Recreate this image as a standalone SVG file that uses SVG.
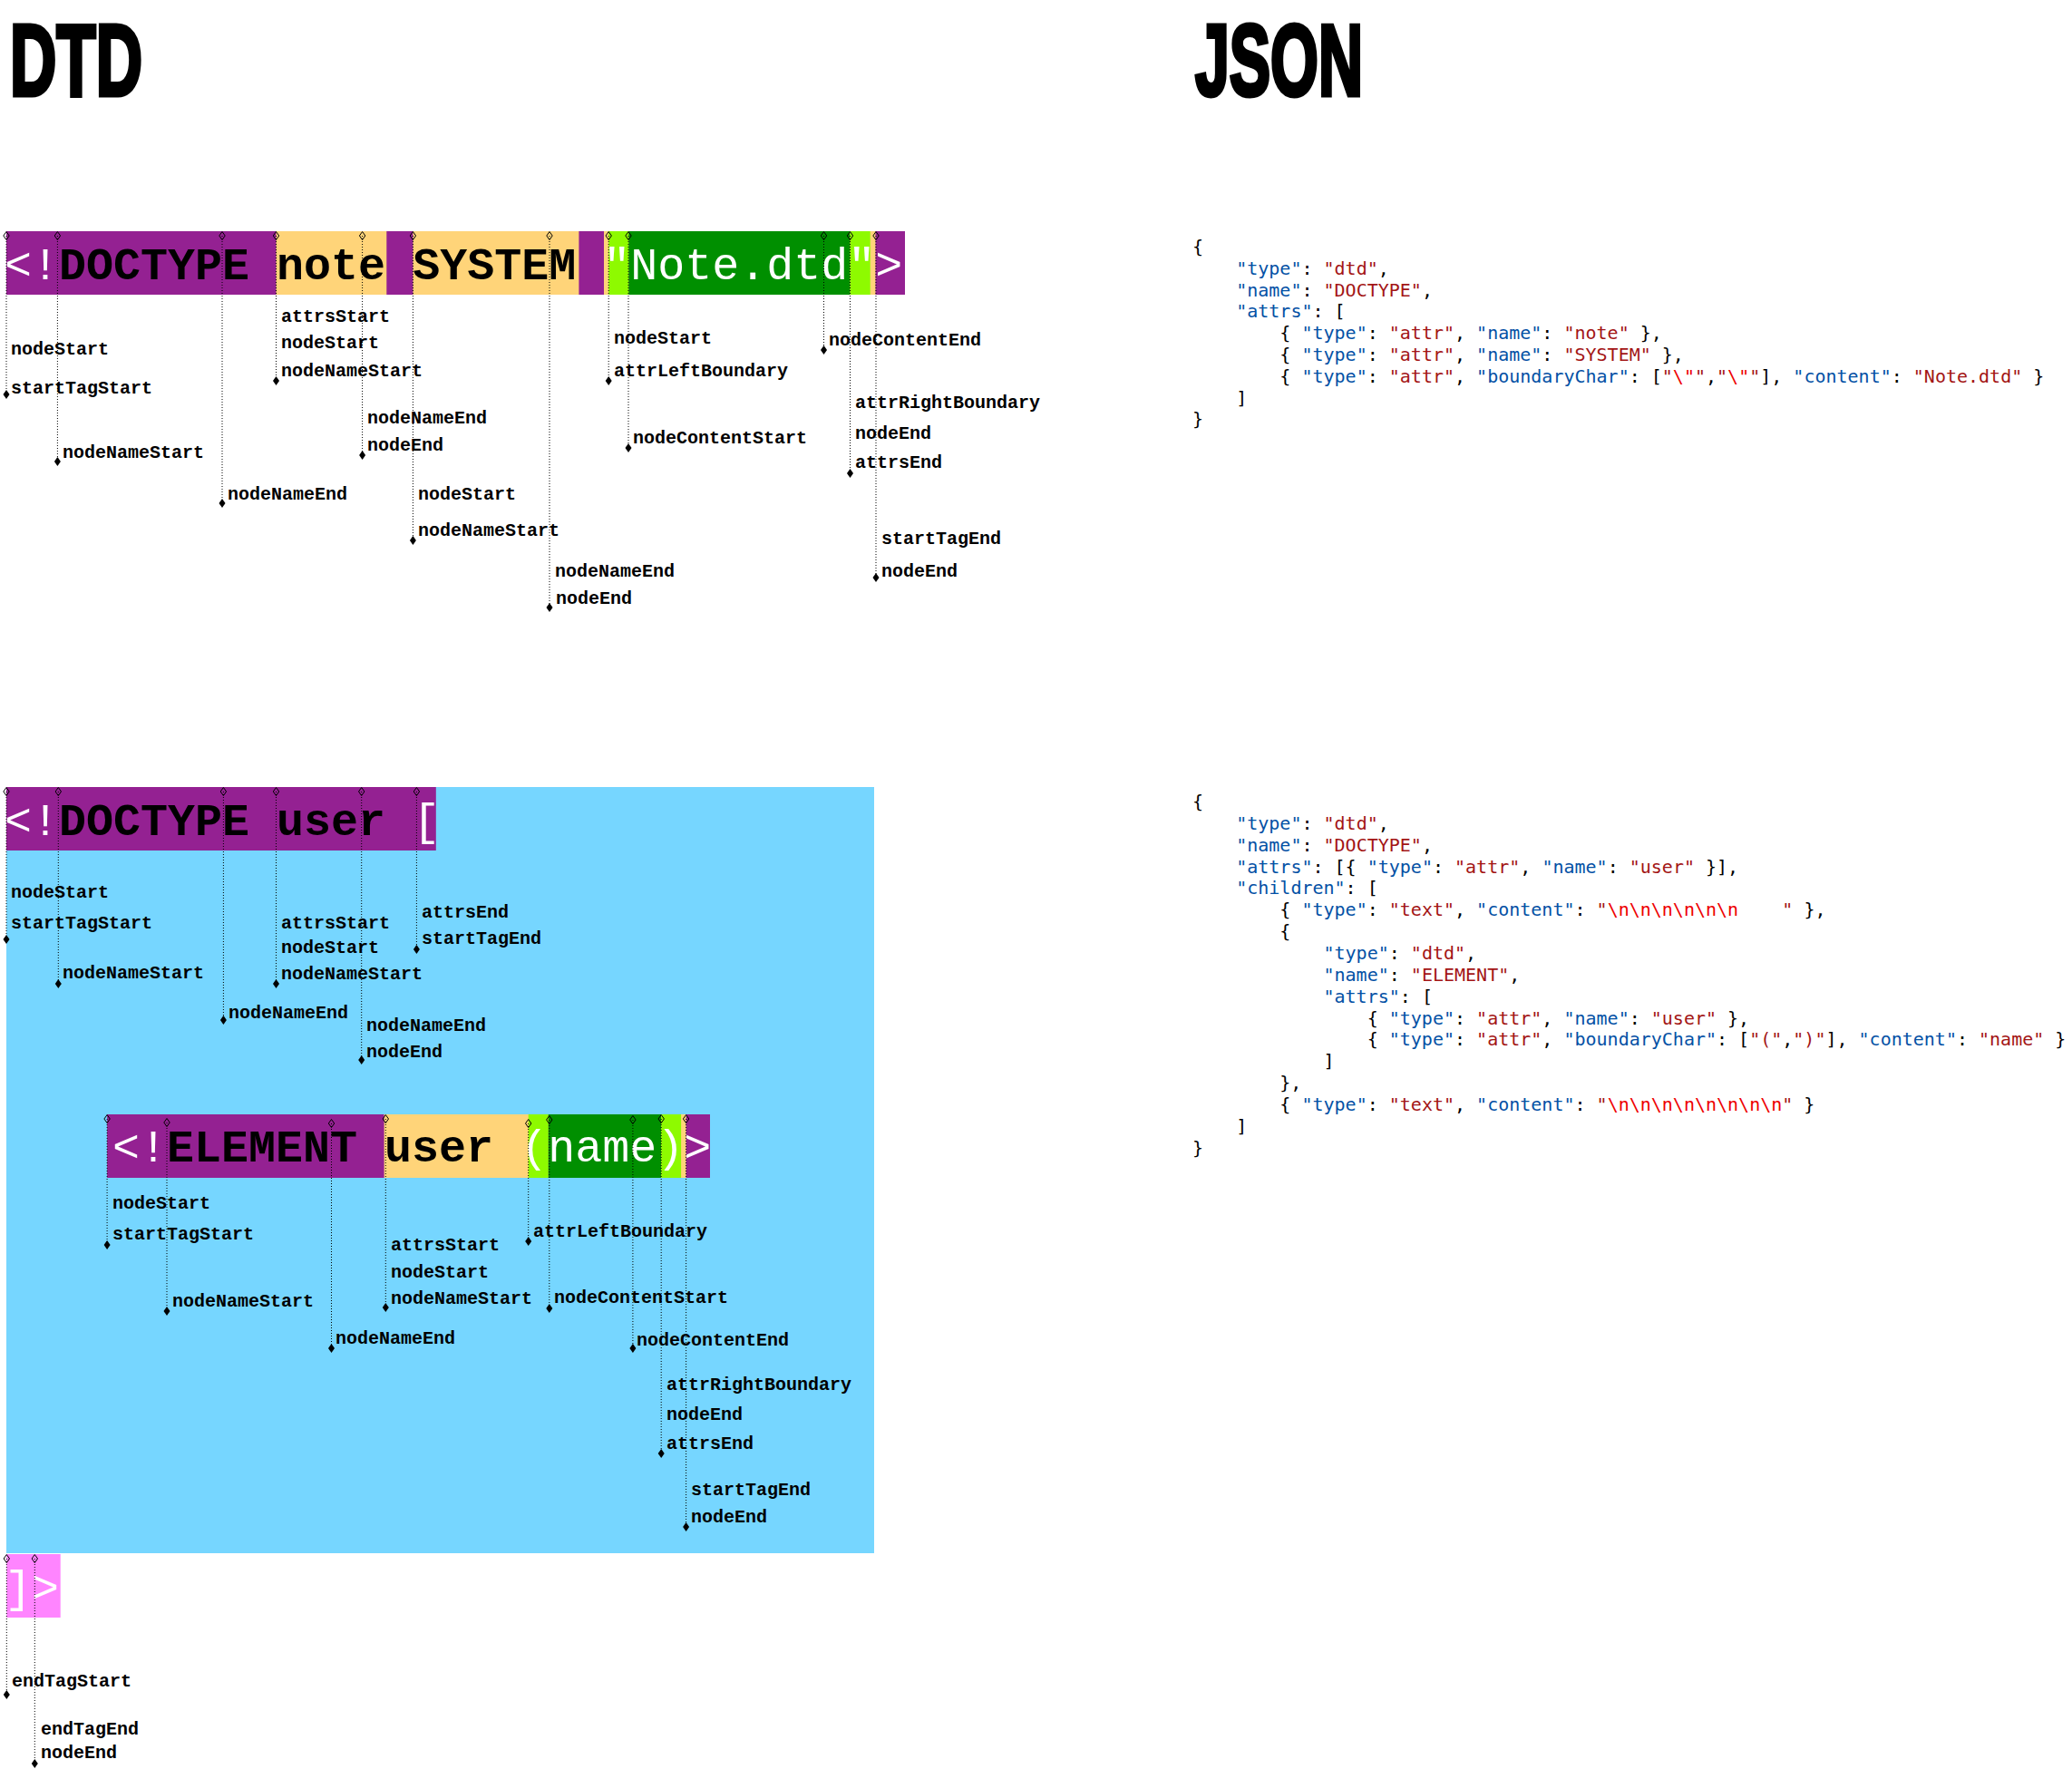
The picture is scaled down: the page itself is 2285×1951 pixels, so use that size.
<svg xmlns="http://www.w3.org/2000/svg" xmlns:xlink="http://www.w3.org/1999/xlink" width="2285" height="1951" viewBox="0 0 2285 1951">
  <style>
    .title { font-family: "Liberation Sans Narrow", "Liberation Sans", "DejaVu Sans Condensed", sans-serif; font-weight: bold; font-size: 112px; fill: #000; stroke: #000; stroke-width: 5px; stroke-linejoin: miter; }
    .bar { font-family: "Courier New", "Liberation Mono", monospace; font-size: 50px; }
    .w { fill: #fff; font-weight: normal; }
    .b { fill: #000; font-weight: bold; }
    .lab { font-family: "Courier New", "Liberation Mono", monospace; font-weight: bold; font-size: 20px; fill: #000; }
    .json { font-family: "DejaVu Sans Mono", Menlo, monospace; font-size: 20px; fill: #000; white-space: pre; }
    .k { fill: #0451A5; }
    .s { fill: #A31515; }
    .e { fill: #EE0000; }
    .guide { stroke: #000; stroke-width: 1; stroke-dasharray: 1 2; fill: none; }
    .tag { fill: #942192; }
    .attr { fill: #FFD479; }
    .bound { fill: #8EFA00; }
    .content { fill: #008F00; }
    .scope { fill: #76D6FF; }
    .close { fill: #FF85FF; }
  </style>
  <defs>
    <path id="dh" d="M0,-4.5 L3.2,0 L0,4.5 L-3.2,0 Z" fill="none" stroke="#000" stroke-width="1"/>
    <path id="df" d="M0,-5 L3.5,0 L0,5 L-3.5,0 Z" fill="#000"/>
  </defs>

  <rect x="0" y="0" width="2285" height="1951" fill="#fff"/>

  <!-- headings -->
  <g id="title-dtd"><text class="title" x="11" y="105" textLength="146" lengthAdjust="spacingAndGlyphs">DTD</text></g>
  <g id="title-json"><text class="title" x="1318" y="105" textLength="185" lengthAdjust="spacingAndGlyphs">JSON</text></g>

  <!-- ===== sample 1: <!DOCTYPE note SYSTEM "Note.dtd"> ===== -->
  <g id="doctype-note">
    <rect class="tag" x="7" y="255" width="991" height="70"/>
    <rect class="attr" x="304.5" y="255" width="121.8" height="70"/>
    <rect class="attr" x="455.4" y="255" width="183" height="70"/>
    <rect class="attr" x="666" y="255" width="299.5" height="70"/>
    <rect class="bound" x="671.2" y="255" width="22.1" height="70"/>
    <rect class="content" x="693.3" y="255" width="244.2" height="70"/>
    <rect class="bound" x="937.5" y="255" width="22.2" height="70"/>
    <text class="bar" x="5" y="308" xml:space="preserve"><tspan class="w">&lt;!</tspan><tspan class="b">DOCTYPE</tspan> <tspan class="b">note</tspan> <tspan class="b">SYSTEM</tspan> <tspan class="w">"Note.dtd"&gt;</tspan></text>
  </g>

  <!-- ===== sample 2: internal subset ===== -->
  <g id="doctype-user">
    <rect class="scope" x="7" y="868" width="957" height="845"/>
    <rect class="tag" x="7" y="868" width="473.8" height="70"/>
    <text class="bar" x="5" y="921" xml:space="preserve"><tspan class="w">&lt;!</tspan><tspan class="b">DOCTYPE</tspan> <tspan class="b">user</tspan> <tspan class="w">[</tspan></text>
  </g>

  <g id="element-user">
    <rect class="tag" x="118.1" y="1229" width="664.9" height="70"/>
    <rect class="attr" x="423.6" y="1229" width="333" height="70"/>
    <rect class="bound" x="582.7" y="1229" width="22" height="70"/>
    <rect class="content" x="604.7" y="1229" width="124.5" height="70"/>
    <rect class="bound" x="729.2" y="1229" width="21.9" height="70"/>
    <text class="bar" x="124" y="1281" xml:space="preserve"><tspan class="w">&lt;!</tspan><tspan class="b">ELEMENT</tspan> <tspan class="b">user</tspan> <tspan class="w">(name)&gt;</tspan></text>
  </g>

  <g id="doctype-close">
    <rect class="close" x="7.3" y="1714" width="59.4" height="70"/>
    <text class="bar" x="5" y="1767"><tspan class="w">]&gt;</tspan></text>
  </g>

  <!-- offset guides: dotted drop line, hollow tick at the bar, filled tick at the label -->
  <g id="connectors">
    <!-- sample 1 -->
    <path class="guide" d="M7,260V435 M63.4,260V509 M245,260V555 M304.5,260V420 M399.6,260V502 M455.4,260V596 M606,260V670 M671.2,260V420 M693,260V494 M908.5,260V386 M937.5,260V522 M966,260V637"/>
    <use href="#dh" x="7" y="260"/><use href="#df" x="7" y="435"/>
    <use href="#dh" x="63.4" y="260"/><use href="#df" x="63.4" y="509"/>
    <use href="#dh" x="245" y="260"/><use href="#df" x="245" y="555"/>
    <use href="#dh" x="304.5" y="260"/><use href="#df" x="304.5" y="420"/>
    <use href="#dh" x="399.6" y="260"/><use href="#df" x="399.6" y="502"/>
    <use href="#dh" x="455.4" y="260"/><use href="#df" x="455.4" y="596"/>
    <use href="#dh" x="606" y="260"/><use href="#df" x="606" y="670"/>
    <use href="#dh" x="671.2" y="260"/><use href="#df" x="671.2" y="420"/>
    <use href="#dh" x="693" y="260"/><use href="#df" x="693" y="494"/>
    <use href="#dh" x="908.5" y="260"/><use href="#df" x="908.5" y="386"/>
    <use href="#dh" x="937.5" y="260"/><use href="#df" x="937.5" y="522"/>
    <use href="#dh" x="966" y="260"/><use href="#df" x="966" y="637"/>
    <!-- sample 2, DOCTYPE -->
    <path class="guide" d="M7,873V1036 M64.3,873V1085 M246.4,873V1125 M304.5,873V1085 M398.7,873V1169 M459.4,873V1047"/>
    <use href="#dh" x="7" y="873"/><use href="#df" x="7" y="1036"/>
    <use href="#dh" x="64.3" y="873"/><use href="#df" x="64.3" y="1085"/>
    <use href="#dh" x="246.4" y="873"/><use href="#df" x="246.4" y="1125"/>
    <use href="#dh" x="304.5" y="873"/><use href="#df" x="304.5" y="1085"/>
    <use href="#dh" x="398.7" y="873"/><use href="#df" x="398.7" y="1169"/>
    <use href="#dh" x="459.4" y="873"/><use href="#df" x="459.4" y="1047"/>
    <!-- sample 2, ELEMENT -->
    <path class="guide" d="M118.1,1234V1373 M184,1238V1446 M365.5,1239V1487 M425.3,1234V1442 M582.7,1239V1369 M605.8,1235V1443 M697.9,1235V1487 M729.2,1234V1603 M756.6,1234V1684"/>
    <use href="#dh" x="118.1" y="1234"/><use href="#df" x="118.1" y="1373"/>
    <use href="#dh" x="184" y="1238"/><use href="#df" x="184" y="1446"/>
    <use href="#dh" x="365.5" y="1239"/><use href="#df" x="365.5" y="1487"/>
    <use href="#dh" x="425.3" y="1234"/><use href="#df" x="425.3" y="1442"/>
    <use href="#dh" x="582.7" y="1239"/><use href="#df" x="582.7" y="1369"/>
    <use href="#dh" x="605.8" y="1235"/><use href="#df" x="605.8" y="1443"/>
    <use href="#dh" x="697.9" y="1235"/><use href="#df" x="697.9" y="1487"/>
    <use href="#dh" x="729.2" y="1234"/><use href="#df" x="729.2" y="1603"/>
    <use href="#dh" x="756.6" y="1234"/><use href="#df" x="756.6" y="1684"/>
    <!-- sample 2, closing ]> -->
    <path class="guide" d="M7.3,1719V1869 M38.3,1719V1945"/>
    <use href="#dh" x="7.3" y="1719"/><use href="#df" x="7.3" y="1869"/>
    <use href="#dh" x="38.3" y="1719"/><use href="#df" x="38.3" y="1945"/>
  </g>

  <!-- offset labels -->
  <g id="labels-note" class="lab">
    <text x="12" y="391">nodeStart</text>
    <text x="12" y="434">startTagStart</text>
    <text x="69" y="505">nodeNameStart</text>
    <text x="251" y="551">nodeNameEnd</text>
    <text x="310" y="355">attrsStart</text>
    <text x="310" y="384">nodeStart</text>
    <text x="310" y="415">nodeNameStart</text>
    <text x="405" y="467">nodeNameEnd</text>
    <text x="405" y="497">nodeEnd</text>
    <text x="461" y="551">nodeStart</text>
    <text x="461" y="591">nodeNameStart</text>
    <text x="612" y="636">nodeNameEnd</text>
    <text x="613" y="666">nodeEnd</text>
    <text x="677" y="379">nodeStart</text>
    <text x="677" y="415">attrLeftBoundary</text>
    <text x="698" y="489">nodeContentStart</text>
    <text x="914" y="381">nodeContentEnd</text>
    <text x="943" y="450">attrRightBoundary</text>
    <text x="943" y="484">nodeEnd</text>
    <text x="943" y="516">attrsEnd</text>
    <text x="972" y="600">startTagEnd</text>
    <text x="972" y="636">nodeEnd</text>
  </g>
  <g id="labels-user" class="lab">
    <text x="12" y="990">nodeStart</text>
    <text x="12" y="1024">startTagStart</text>
    <text x="69" y="1079">nodeNameStart</text>
    <text x="252" y="1123">nodeNameEnd</text>
    <text x="310" y="1024">attrsStart</text>
    <text x="310" y="1051">nodeStart</text>
    <text x="310" y="1080">nodeNameStart</text>
    <text x="404" y="1137">nodeNameEnd</text>
    <text x="404" y="1166">nodeEnd</text>
    <text x="465" y="1012">attrsEnd</text>
    <text x="465" y="1041">startTagEnd</text>
  </g>
  <g id="labels-element" class="lab">
    <text x="124" y="1333">nodeStart</text>
    <text x="124" y="1367">startTagStart</text>
    <text x="190" y="1441">nodeNameStart</text>
    <text x="370" y="1482">nodeNameEnd</text>
    <text x="431" y="1379">attrsStart</text>
    <text x="431" y="1409">nodeStart</text>
    <text x="431" y="1438">nodeNameStart</text>
    <text x="588" y="1364">attrLeftBoundary</text>
    <text x="611" y="1437">nodeContentStart</text>
    <text x="702" y="1484">nodeContentEnd</text>
    <text x="735" y="1533">attrRightBoundary</text>
    <text x="735" y="1566">nodeEnd</text>
    <text x="735" y="1598">attrsEnd</text>
    <text x="762" y="1649">startTagEnd</text>
    <text x="762" y="1679">nodeEnd</text>
  </g>
  <g id="labels-close" class="lab">
    <text x="13" y="1860">endTagStart</text>
    <text x="45" y="1913">endTagEnd</text>
    <text x="45" y="1939">nodeEnd</text>
  </g>

  <!-- parsed tree for sample 1 -->
  <g id="json-note" class="json">
    <text x="1315" y="279" xml:space="preserve">{</text>
    <text x="1315" y="302.8" xml:space="preserve">    <tspan class="k">"type"</tspan>: <tspan class="s">"dtd"</tspan>,</text>
    <text x="1315" y="326.6" xml:space="preserve">    <tspan class="k">"name"</tspan>: <tspan class="s">"DOCTYPE"</tspan>,</text>
    <text x="1315" y="350.4" xml:space="preserve">    <tspan class="k">"attrs"</tspan>: [</text>
    <text x="1315" y="374.2" xml:space="preserve">        { <tspan class="k">"type"</tspan>: <tspan class="s">"attr"</tspan>, <tspan class="k">"name"</tspan>: <tspan class="s">"note"</tspan> },</text>
    <text x="1315" y="398" xml:space="preserve">        { <tspan class="k">"type"</tspan>: <tspan class="s">"attr"</tspan>, <tspan class="k">"name"</tspan>: <tspan class="s">"SYSTEM"</tspan> },</text>
    <text x="1315" y="421.8" xml:space="preserve">        { <tspan class="k">"type"</tspan>: <tspan class="s">"attr"</tspan>, <tspan class="k">"boundaryChar"</tspan>: [<tspan class="s">"</tspan><tspan class="e">\"</tspan><tspan class="s">"</tspan>,<tspan class="s">"</tspan><tspan class="e">\"</tspan><tspan class="s">"</tspan>], <tspan class="k">"content"</tspan>: <tspan class="s">"Note.dtd"</tspan> }</text>
    <text x="1315" y="445.6" xml:space="preserve">    ]</text>
    <text x="1315" y="469.4" xml:space="preserve">}</text>
  </g>

  <!-- parsed tree for sample 2 -->
  <g id="json-user" class="json">
    <text x="1315" y="891" xml:space="preserve">{</text>
    <text x="1315" y="914.85" xml:space="preserve">    <tspan class="k">"type"</tspan>: <tspan class="s">"dtd"</tspan>,</text>
    <text x="1315" y="938.7" xml:space="preserve">    <tspan class="k">"name"</tspan>: <tspan class="s">"DOCTYPE"</tspan>,</text>
    <text x="1315" y="962.55" xml:space="preserve">    <tspan class="k">"attrs"</tspan>: [{ <tspan class="k">"type"</tspan>: <tspan class="s">"attr"</tspan>, <tspan class="k">"name"</tspan>: <tspan class="s">"user"</tspan> }],</text>
    <text x="1315" y="986.4" xml:space="preserve">    <tspan class="k">"children"</tspan>: [</text>
    <text x="1315" y="1010.25" xml:space="preserve">        { <tspan class="k">"type"</tspan>: <tspan class="s">"text"</tspan>, <tspan class="k">"content"</tspan>: <tspan class="s">"</tspan><tspan class="e">\n\n\n\n\n\n</tspan><tspan class="s">    "</tspan> },</text>
    <text x="1315" y="1034.1" xml:space="preserve">        {</text>
    <text x="1315" y="1057.95" xml:space="preserve">            <tspan class="k">"type"</tspan>: <tspan class="s">"dtd"</tspan>,</text>
    <text x="1315" y="1081.8" xml:space="preserve">            <tspan class="k">"name"</tspan>: <tspan class="s">"ELEMENT"</tspan>,</text>
    <text x="1315" y="1105.65" xml:space="preserve">            <tspan class="k">"attrs"</tspan>: [</text>
    <text x="1315" y="1129.5" xml:space="preserve">                { <tspan class="k">"type"</tspan>: <tspan class="s">"attr"</tspan>, <tspan class="k">"name"</tspan>: <tspan class="s">"user"</tspan> },</text>
    <text x="1315" y="1153.35" xml:space="preserve">                { <tspan class="k">"type"</tspan>: <tspan class="s">"attr"</tspan>, <tspan class="k">"boundaryChar"</tspan>: [<tspan class="s">"("</tspan>,<tspan class="s">")"</tspan>], <tspan class="k">"content"</tspan>: <tspan class="s">"name"</tspan> }</text>
    <text x="1315" y="1177.2" xml:space="preserve">            ]</text>
    <text x="1315" y="1201.05" xml:space="preserve">        },</text>
    <text x="1315" y="1224.9" xml:space="preserve">        { <tspan class="k">"type"</tspan>: <tspan class="s">"text"</tspan>, <tspan class="k">"content"</tspan>: <tspan class="s">"</tspan><tspan class="e">\n\n\n\n\n\n\n\n</tspan><tspan class="s">"</tspan> }</text>
    <text x="1315" y="1248.75" xml:space="preserve">    ]</text>
    <text x="1315" y="1272.6" xml:space="preserve">}</text>
  </g>
</svg>
